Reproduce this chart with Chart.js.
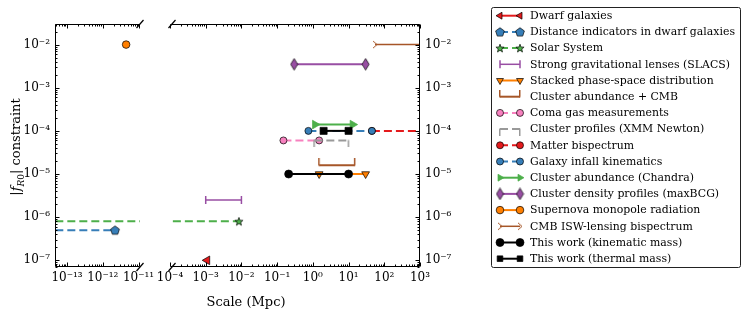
<!DOCTYPE html>
<html><head><meta charset="utf-8">
<script src="https://cdn.jsdelivr.net/npm/chart.js@4/dist/chart.umd.min.js"></script>
<style>
html,body{margin:0;padding:0;background:#fff;}
body{width:747px;height:319px;overflow:hidden;position:relative;font-family:"DejaVu Serif",serif;color:#000;}
canvas{position:absolute;top:0;}
#cl{left:0;}
#cr{left:145px;}
#xt{position:absolute;left:171px;width:150px;top:294px;text-align:center;font-size:13px;}
#yt{position:absolute;left:-83px;width:200px;top:138px;height:18px;text-align:center;font-size:13px;transform:rotate(-90deg);white-space:nowrap;}
#yt sub{font-size:9px;}
</style></head><body>
<canvas id="cl" width="170" height="319"></canvas>
<canvas id="cr" width="602" height="319"></canvas>
<div id="xt">Scale (Mpc)</div>
<div id="yt">|<i>f</i><sub><i>R</i>0</sub>| constraint</div>
<script>
// ---------- data ----------
const dwarfX=[1.1e-3], dwarfY=[1e-7];
const distX=[1e-14,2.2e-12], distY=[5e-7,5e-7];
const solarX=[1e-14,8.5e-3], solarY=[8e-7,8e-7];
const slacsX=[1e-3,1e-2], slacsY=[2.5e-6,2.5e-6];
const stackedX=[1.5,30], stackedY=[1e-5,1e-5];
const abundCmbX=[1.5,15], abundCmbY=[1.6e-5,1.6e-5];
const comaX=[0.15,1.5], comaY=[6e-5,6e-5];
const xmmX=[1.1,10], xmmY=[6e-5,6e-5];
const bispecX=[45,1e4], bispecY=[1e-4,1e-4];
const infallX=[0.75,45], infallY=[1e-4,1e-4];
const chandraX=[1.15,13], chandraY=[1.4e-4,1.4e-4];
const maxbcgX=[0.3,30], maxbcgY=[3.5e-3,3.5e-3];
const snX=[4.5e-12], snY=[1e-2];
const iswX=[55,1e4], iswY=[1e-2,1e-2];
const kinX=[0.21,10], kinY=[1e-5,1e-5];
const thermX=[2,10], thermY=[1e-4,1e-4];

const labels=["Dwarf galaxies","Distance indicators in dwarf galaxies","Solar System",
"Strong gravitational lenses (SLACS)","Stacked phase-space distribution","Cluster abundance + CMB",
"Coma gas measurements","Cluster profiles (XMM Newton)","Matter bispectrum","Galaxy infall kinematics",
"Cluster abundance (Chandra)","Cluster density profiles (maxBCG)","Supernova monopole radiation",
"CMB ISW-lensing bispectrum","This work (kinematic mass)","This work (thermal mass)"];

const xTicksLeft=[1e-13,1e-12,1e-11];
const xTicksRight=[1e-4,1e-3,1e-2,1e-1,1e0,1e1,1e2,1e3];
const yTicks=[1e-7,1e-6,1e-5,1e-4,1e-3,1e-2];

// ---------- styles ----------
const C={red:'#e41a1c',blue:'#377eb8',green:'#4daf4a',purple:'#984ea3',orange:'#ff7f00',
brown:'#a65628',pink:'#f781bf',gray:'#999999',black:'#000000'};
function mk(w,h,draw){const c=document.createElement('canvas');c.width=w;c.height=h;draw(c.getContext('2d'),w,h);return c;}
const pentagon=mk(12,12,g=>{g.beginPath();for(let i=0;i<5;i++){const a=-Math.PI/2+i*2*Math.PI/5;g.lineTo(6+4.6*Math.cos(a),6.4+4.6*Math.sin(a));}
 g.closePath();g.fillStyle=C.blue;g.fill();g.lineWidth=0.7;g.strokeStyle='#000';g.stroke();});
const star=mk(12,12,g=>{g.beginPath();for(let i=0;i<10;i++){const a=-Math.PI/2+i*Math.PI/5;const r=i%2?1.8:4.3;g.lineTo(6+r*Math.cos(a),6.4+r*Math.sin(a));}
 g.closePath();g.fillStyle=C.green;g.fill();g.lineWidth=0.7;g.strokeStyle='#000';g.stroke();});
const thinDiamond=mk(9,13,g=>{g.beginPath();g.moveTo(4.5,0.7);g.lineTo(8,6.5);g.lineTo(4.5,12.3);g.lineTo(1,6.5);g.closePath();
 g.fillStyle=C.purple;g.fill();g.lineWidth=0.7;g.strokeStyle='#000';g.stroke();});
const capUp=mk(4,14,g=>{g.fillStyle=C.brown;g.fillRect(1,0,1.5,7.5);});
const capDown=mk(4,14,g=>{g.fillStyle=C.gray;g.fillRect(1,6.5,1.5,7.5);});
const chevron=mk(8,9,g=>{g.strokeStyle=C.brown;g.lineWidth=1;g.beginPath();g.moveTo(2,1);g.lineTo(6,4.5);g.lineTo(2,8);g.stroke();});

const dash=[8,4];
function pts(xs,ys){return xs.map((x,i)=>({x:x,y:ys[i]}));}
const styles=[
 {xs:dwarfX,ys:dwarfY,color:C.red,ps:'triangle',r:5,rot:-90,bg:C.red,bc:'#000'},
 {xs:distX,ys:distY,color:C.blue,dash:dash,ps:pentagon},
 {xs:solarX,ys:solarY,color:C.green,dash:dash,ps:star},
 {xs:slacsX,ys:slacsY,color:C.purple,ps:'line',r:4,rot:90,bg:C.purple,bc:C.purple,bw:1.5,lw:1.5},
 {xs:stackedX,ys:stackedY,color:C.orange,ps:'triangle',r:4.5,rot:180,bg:C.orange,bc:'#000'},
 {xs:abundCmbX,ys:abundCmbY,color:C.brown,ps:capUp},
 {xs:comaX,ys:comaY,color:C.pink,dash:dash,ps:'circle',r:3.5,bg:C.pink,bc:'#000'},
 {xs:xmmX,ys:xmmY,color:C.gray,dash:dash,ps:capDown},
 {xs:bispecX,ys:bispecY,color:C.red,dash:dash,ps:'circle',r:3.5,bg:C.red,bc:'#000'},
 {xs:infallX,ys:infallY,color:C.blue,dash:dash,ps:'circle',r:3.5,bg:C.blue,bc:'#000'},
 {xs:chandraX,ys:chandraY,color:C.green,ps:'triangle',r:5,rot:90,bg:C.green,bc:C.green},
 {xs:maxbcgX,ys:maxbcgY,color:C.purple,ps:thinDiamond},
 {xs:snX,ys:snY,color:C.orange,ps:'circle',r:3.8,bg:C.orange,bc:'#000'},
 {xs:iswX,ys:iswY,color:C.brown,ps:chevron,lw:1.5},
 {xs:kinX,ys:kinY,color:C.black,ps:'circle',r:4,bg:C.black,bc:'#000'},
 {xs:thermX,ys:thermY,color:C.black,ps:'rect',r:5,bg:C.black,bc:'#000'}
];
function makeDatasets(){
 return styles.map((s,i)=>({
  label:labels[i],data:pts(s.xs,s.ys),borderColor:s.color,borderWidth:s.lw||2,borderDash:s.dash||[],
  pointStyle:s.ps,pointRadius:s.r||4,pointRotation:s.rot||0,pointBackgroundColor:s.bg||s.color,
  pointBorderColor:s.bc||s.color,pointBorderWidth:s.bw!==undefined?s.bw:0.7,
  pointHoverRadius:s.r||4,tension:0,fill:false,order:styles.length-i
 }));
}

// ---------- helpers ----------
const SUP={'-':'\u207B','0':'\u2070','1':'\u00B9','2':'\u00B2','3':'\u00B3','4':'\u2074','5':'\u2075','6':'\u2076','7':'\u2077','8':'\u2078','9':'\u2079'};
function powLabel(v){const e=Math.round(Math.log10(v));return '10'+String(e).split('').map(c=>SUP[c]).join('');}
const tickFont={family:'"DejaVu Serif", serif',size:12};

function axesPlugin(side){
 return {id:'mplAxes',afterDraw(chart){
  const ctx=chart.ctx,a=chart.chartArea,xs=chart.scales.x,ys=chart.scales.y;
  ctx.save();ctx.strokeStyle='#000';ctx.lineWidth=1;ctx.setLineDash([]);
  const L=Math.round(a.left)+0.5,R=Math.round(a.right)-0.5,T=Math.round(a.top)+0.5,B=Math.round(a.bottom)-0.5;
  ctx.beginPath();
  ctx.moveTo(L,T);ctx.lineTo(R,T);ctx.moveTo(L,B);ctx.lineTo(R,B);
  if(side==='left'){ctx.moveTo(L,T);ctx.lineTo(L,B);}else{ctx.moveTo(R,T);ctx.lineTo(R,B);}
  ctx.stroke();
  ctx.beginPath();
  const e0=Math.floor(Math.log10(xs.min)),e1=Math.ceil(Math.log10(xs.max));
  for(let e=e0;e<=e1;e++)for(let m=1;m<=9;m++){const v=m*Math.pow(10,e);
   if(v<xs.min*0.9999||v>xs.max*1.0001)continue;const p=Math.round(xs.getPixelForValue(v))+0.5;const len=m===1?4:2;
   ctx.moveTo(p,B);ctx.lineTo(p,B-len);ctx.moveTo(p,T);ctx.lineTo(p,T+len);}
  const f0=Math.floor(Math.log10(ys.min)),f1=Math.ceil(Math.log10(ys.max));
  for(let e=f0;e<=f1;e++)for(let m=1;m<=9;m++){const v=m*Math.pow(10,e);
   if(v<ys.min*0.9999||v>ys.max*1.0001)continue;const p=Math.round(ys.getPixelForValue(v))+0.5;const len=m===1?4:2;
   if(side==='left'){ctx.moveTo(L,p);ctx.lineTo(L+len,p);}else{ctx.moveTo(R,p);ctx.lineTo(R-len,p);}}
  ctx.stroke();
  // break marks
  ctx.lineWidth=1.2;ctx.beginPath();
  const bx=side==='left'?a.right:a.left+2;
  [a.top,a.bottom].forEach(y=>{ctx.moveTo(bx-3.5,y+4);ctx.lineTo(bx+3.5,y-4);});
  ctx.stroke();
  ctx.restore();
 }};
}

const legendPlugin={id:'mplLegend',afterDraw(chart){
 const ctx=chart.ctx,off=145;
 ctx.save();
 const bx=491-off+0.5,by=7.5,bw=249,bh=260;
 ctx.strokeStyle='#222';ctx.lineWidth=1;ctx.setLineDash([]);
 ctx.beginPath();
 if(ctx.roundRect)ctx.roundRect(bx,by,bw,bh,2);else ctx.rect(bx,by,bw,bh);
 ctx.fillStyle='#fff';ctx.fill();ctx.stroke();
 const ds=chart.data.datasets;
 ctx.font='10.9px "DejaVu Serif", serif';ctx.textBaseline='middle';ctx.textAlign='left';
 ds.forEach((d,i)=>{
  const y=15.7+i*16.2;const x0=500-off,x1=520-off;
  ctx.save();ctx.strokeStyle=d.borderColor;ctx.lineWidth=d.borderWidth;ctx.setLineDash(d.borderDash||[]);
  ctx.beginPath();ctx.moveTo(x0,y);ctx.lineTo(x1,y);ctx.stroke();ctx.setLineDash([]);
  [x0,x1].forEach(x=>{ctx.fillStyle=d.pointBackgroundColor;ctx.strokeStyle=d.pointBorderColor;ctx.lineWidth=d.pointBorderWidth;
   Chart.helpers.drawPoint(ctx,{pointStyle:d.pointStyle,radius:Math.min(d.pointRadius,4),rotation:d.pointRotation,borderWidth:d.pointBorderWidth},x,y);});
  ctx.restore();
  ctx.fillStyle='#000';ctx.fillText(d.label,530-off,y+0.5);
 });
 ctx.restore();
}};

const yMin=7e-8,yMax=3e-2;
function scales(xMin,xMax,xTicks,yPos,yWidth){
 return {
  x:{type:'logarithmic',min:xMin,max:xMax,grid:{display:false,drawTicks:false},border:{display:false},
   afterBuildTicks:s=>{s.ticks=xTicks.map(v=>({value:v}));},
   afterFit:s=>{s.height=52;s.paddingLeft=0;s.paddingRight=0;},
   ticks:{autoSkip:false,maxRotation:0,minRotation:0,padding:4,color:'#000',font:tickFont,callback:v=>powLabel(v)}},
  y:{type:'logarithmic',position:yPos,min:yMin,max:yMax,grid:{display:false,drawTicks:false},border:{display:false},
   afterBuildTicks:s=>{s.ticks=yTicks.map(v=>({value:v}));},
   afterFit:s=>{s.width=yWidth;s.paddingTop=0;s.paddingBottom=0;},
   ticks:{autoSkip:false,padding:5,color:'#000',font:tickFont,callback:v=>powLabel(v)}}
 };
}
const common={responsive:false,animation:false,events:[],plugins:{legend:{display:false},tooltip:{enabled:false}}};

new Chart(document.getElementById('cl'),{type:'line',data:{datasets:makeDatasets()},
 options:Object.assign({},common,{layout:{padding:{left:0,right:30,top:24,bottom:0}},
  scales:scales(4.6e-14,1.1e-11,xTicksLeft,'left',55)}),plugins:[axesPlugin('left')]});

new Chart(document.getElementById('cr'),{type:'line',data:{datasets:makeDatasets()},
 options:Object.assign({},common,{layout:{padding:{left:25,right:287,top:24,bottom:0}},
  scales:scales(1e-4,1e3,xTicksRight,'right',40)}),plugins:[axesPlugin('right'),legendPlugin]});
</script>
</body></html>
